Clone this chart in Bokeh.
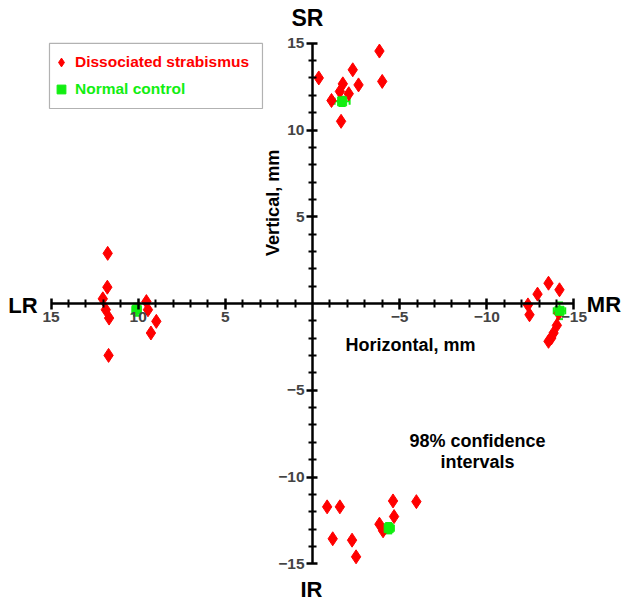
from bokeh.plotting import figure
from bokeh.models import (Range1d, FixedTicker, Label, Legend, LegendItem, BoxAnnotation,
                          Whisker, TeeHead, ColumnDataSource)
from bokeh.embed import file_html
from bokeh.resources import INLINE
import numpy as np

# Dissociated strabismus: horizontal (mm, temporal positive) and vertical positions
ds_x = [-0.36, -3.84, -2.31, -4.00, -1.74, -2.64, -1.57, -2.08, -1.09, -1.64,   # SR
        11.75, 11.77, 12.03, 11.86, 11.67, 9.53, 9.44, 8.96, 9.27, 11.70,       # LR
        -13.54, -14.17, -12.91, -12.36, -12.45, -14.12, -14.02, -13.83, -13.70, -13.54,  # MR
        -0.84, -1.57, -4.62, -5.96, -4.68, -3.84, -4.05, -1.16, -2.27, -2.50]   # IR
ds_y = [13.00, 14.55, 13.47, 12.80, 12.66, 12.60, 12.22, 12.09, 11.70, 10.50,
        2.89, 0.94, 0.27, -0.36, -0.84, 0.11, -0.36, -1.03, -1.70, -2.99,
        1.17, 0.79, 0.54, -0.08, -0.65, -0.56, -1.26, -1.70, -1.99, -2.18,
        -11.72, -11.72, -11.38, -11.42, -12.28, -12.72, -13.10, -13.56, -13.64, -14.60]

# Normal control means with 98% confidence intervals
nc_x = [-1.70, 10.09, -14.17, -4.37]
nc_y = [11.65, -0.36, -0.42, -12.95]
nc_xerr = [0.43, 0.24, 0.33, 0.30]
nc_yerr = [0.26, 0.35, 0.48, 0.30]

major_ticks = [-15, -10, -5, 5, 10, 15]
minor_ticks = [v for v in range(-15, 16) if v % 5 != 0]

RED = "#ff0000"
GREEN = "#11ee11"
FONT = "Liberation Sans"

p = figure(width=627, height=605, output_backend="svg", toolbar_location=None,
           x_range=Range1d(17.900, -18.072), y_range=Range1d(-17.406, 17.464),
           min_border=0, min_border_left=0, min_border_bottom=0,
           min_border_top=0, min_border_right=0,
           background_fill_color="white", border_fill_color="white")
p.outline_line_color = None
p.grid.visible = False

for ax in (p.xaxis[0], p.yaxis[0]):
    ax.fixed_location = 0
    ax.bounds = (-15, 15)
    ax.ticker = FixedTicker(ticks=major_ticks, minor_ticks=minor_ticks)
    ax.axis_line_width = 2.5
    ax.axis_line_color = "black"
    ax.major_tick_line_width = 2.5
    ax.minor_tick_line_width = 2
    ax.major_tick_in = 5
    ax.major_tick_out = 6
    ax.minor_tick_in = 4
    ax.minor_tick_out = 4
    ax.major_label_text_font = FONT
    ax.major_label_text_font_style = "bold"
    ax.major_label_text_font_size = "15.5px"
    ax.major_label_standoff = 2

src_nc = ColumnDataSource(dict(
    x=nc_x, y=nc_y,
    xl=[a - b for a, b in zip(nc_x, nc_xerr)], xu=[a + b for a, b in zip(nc_x, nc_xerr)],
    yl=[a - b for a, b in zip(nc_y, nc_yerr)], yu=[a + b for a, b in zip(nc_y, nc_yerr)]))

wx = Whisker(source=src_nc, base="y", lower="xl", upper="xu", dimension="width",
             line_color=GREEN, line_width=2,
             lower_head=TeeHead(size=7, line_color=GREEN, line_width=2),
             upper_head=TeeHead(size=7, line_color=GREEN, line_width=2))
wy = Whisker(source=src_nc, base="x", lower="yl", upper="yu", dimension="height",
             line_color=GREEN, line_width=2,
             lower_head=TeeHead(size=7, line_color=GREEN, line_width=2),
             upper_head=TeeHead(size=7, line_color=GREEN, line_width=2))
p.add_layout(wx)
p.add_layout(wy)

r_ds = p.scatter(ds_x, ds_y, marker="diamond", size=14, fill_color=RED, line_color=RED)
r_nc = p.scatter("x", "y", source=src_nc, marker="square", size=9,
                 fill_color=GREEN, line_color=GREEN)
# legend-only glyph: vertical error bar symbol for the control entry
r_nc_bar = p.scatter([], [], marker="dash", angle=np.pi / 2, size=20,
                     line_color=GREEN, line_width=2.5)

# legend frame
p.add_layout(BoxAnnotation(left=15.09, right=2.87, top=14.99, bottom=11.24,
                           fill_color="white", fill_alpha=1.0,
                           line_color="black", line_width=1.2, level="underlay"))

def mk_legend(item, color, loc):
    return Legend(items=[item], location=loc, margin=0, padding=0, spacing=0,
                  glyph_width=22, glyph_height=22, label_height=22, label_standoff=3,
                  label_text_color=color, label_text_font=FONT,
                  label_text_font_style="bold", label_text_font_size="15.5px",
                  border_line_alpha=0, background_fill_alpha=0)

p.add_layout(mk_legend(LegendItem(label="Dissociated strabismus", renderers=[r_ds]), RED, (50, 532)))
p.add_layout(mk_legend(LegendItem(label="Normal control", renderers=[r_nc, r_nc_bar]), GREEN, (50, 505)))

def lab(x, y, text, size, angle=0.0):
    p.add_layout(Label(x=x, y=y, text=text, text_font=FONT, text_font_style="bold",
                       text_font_size=size, text_align="center", text_baseline="middle",
                       text_color="black", angle=angle))

lab(0.29, 16.43, "SR", "23px")
lab(16.61, -0.09, "LR", "22px")
lab(-16.72, -0.03, "MR", "22px")
lab(0.06, -16.48, "IR", "22px")
lab(-5.62, -2.42, "Horizontal, mm", "18px")
lab(2.24, 5.8, "Vertical, mm", "18px", angle=np.pi / 2)
lab(-9.47, -7.95, "98% confidence", "18px")
lab(-9.47, -9.16, "intervals", "18px")

open("out.html", "w").write(file_html(p, INLINE))
